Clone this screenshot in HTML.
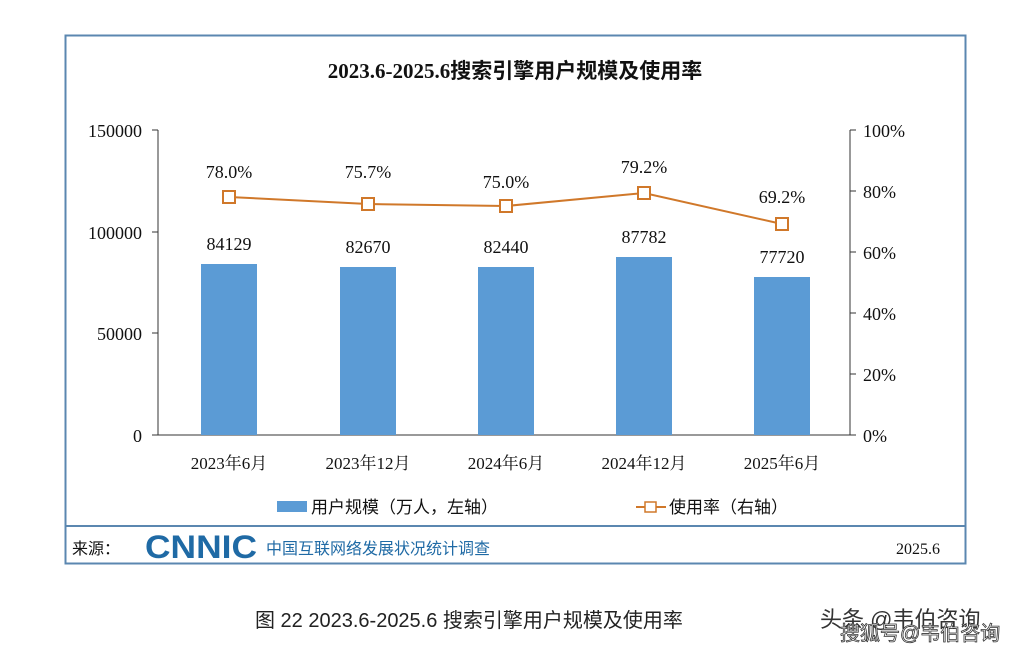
<!DOCTYPE html>
<html><head><meta charset="utf-8"><style>
body{margin:0;background:#fff;width:1030px;height:650px;overflow:hidden}
text{font-family:"Liberation Serif","Noto Serif CJK SC",serif;fill:#111}
.c{font-family:"Liberation Sans","Noto Sans CJK SC",sans-serif}
</style></head><body>
<svg width="1030" height="650" viewBox="0 0 1030 650">
<rect x="65.5" y="35.5" width="900" height="528" fill="#fff" stroke="#5b87b0" stroke-width="2"/>
<line x1="66" y1="526" x2="965" y2="526" stroke="#5b87b0" stroke-width="2"/>
<text x="515" y="78" font-size="21" font-weight="bold" text-anchor="middle">2023.6-2025.6<tspan font-family="Noto Sans CJK SC">搜索引擎用户规模及使用率</tspan></text>
<g stroke="#333" stroke-width="1">
<line x1="158" y1="130" x2="158" y2="435"/>
<line x1="152" y1="130" x2="158" y2="130"/><line x1="152" y1="232" x2="158" y2="232"/><line x1="152" y1="333" x2="158" y2="333"/><line x1="152" y1="435" x2="158" y2="435"/>
<line x1="158" y1="435" x2="850" y2="435"/>
<line x1="850" y1="130" x2="850" y2="435"/>
<line x1="850" y1="130" x2="856" y2="130"/><line x1="850" y1="191" x2="856" y2="191"/><line x1="850" y1="252" x2="856" y2="252"/><line x1="850" y1="313" x2="856" y2="313"/><line x1="850" y1="374" x2="856" y2="374"/><line x1="850" y1="435" x2="856" y2="435"/>
</g>
<g font-size="18" text-anchor="end">
<text x="142" y="137">150000</text><text x="142" y="239">100000</text><text x="142" y="340">50000</text><text x="142" y="442">0</text>
</g>
<g font-size="18">
<text x="863" y="137">100%</text><text x="863" y="198">80%</text><text x="863" y="259">60%</text><text x="863" y="320">40%</text><text x="863" y="381">20%</text><text x="863" y="442">0%</text>
</g>
<g fill="#5b9bd5">
<rect x="201" y="264" width="56" height="171"/>
<rect x="340" y="267" width="56" height="168"/>
<rect x="478" y="267" width="56" height="168"/>
<rect x="616" y="257" width="56" height="178"/>
<rect x="754" y="277" width="56" height="158"/>
</g>
<g font-size="18" text-anchor="middle">
<text x="229" y="250">84129</text><text x="368" y="253">82670</text><text x="506" y="253">82440</text><text x="644" y="243">87782</text><text x="782" y="263">77720</text>
<text x="229" y="178">78.0%</text><text x="368" y="178">75.7%</text><text x="506" y="188">75.0%</text><text x="644" y="173">79.2%</text><text x="782" y="203">69.2%</text>
</g>
<polyline points="229,197 368,204 506,206 644,193 782,224" fill="none" stroke="#d0782a" stroke-width="2"/>
<g fill="#fff" stroke="#d0782a" stroke-width="2">
<rect x="223" y="191" width="12" height="12"/><rect x="362" y="198" width="12" height="12"/><rect x="500" y="200" width="12" height="12"/><rect x="638" y="187" width="12" height="12"/><rect x="776" y="218" width="12" height="12"/>
</g>
<g font-size="17" text-anchor="middle">
<text x="229" y="469">2023年6月</text><text x="368" y="469">2023年12月</text><text x="506" y="469">2024年6月</text><text x="644" y="469">2024年12月</text><text x="782" y="469">2025年6月</text>
</g>
<rect x="277" y="501" width="30" height="11" fill="#5b9bd5"/>
<text x="311" y="513" font-size="17" class="c">用户规模（万人，左轴）</text>
<line x1="636" y1="507" x2="666" y2="507" stroke="#d0782a" stroke-width="2"/>
<rect x="645" y="502" width="11" height="10" fill="#fff" stroke="#d0782a" stroke-width="1.5"/>
<text x="669" y="513" font-size="17" class="c">使用率（右轴）</text>
<text x="72" y="554" font-size="16" class="c" fill="#333">来源：</text>
<text x="145" y="558" font-size="32" font-weight="bold" class="c" style="fill:#1f6aa5" textLength="112" lengthAdjust="spacingAndGlyphs">CNNIC</text>
<text x="266" y="554" font-size="16" class="c" style="fill:#1f6aa5">中国互联网络发展状况统计调查</text>
<text x="940" y="554" font-size="16" text-anchor="end">2025.6</text>
<text x="255" y="627" font-size="20" class="c" style="fill:#222">图 22   2023.6-2025.6 搜索引擎用户规模及使用率</text>
<text x="820" y="627" font-size="22" class="c" style="fill:#333">头条 @韦伯咨询</text>
<text x="840" y="640" font-size="20" class="c" style="fill:#fff;stroke:#333;stroke-width:0.8">搜狐号@韦伯咨询</text>
</svg>
</body></html>
